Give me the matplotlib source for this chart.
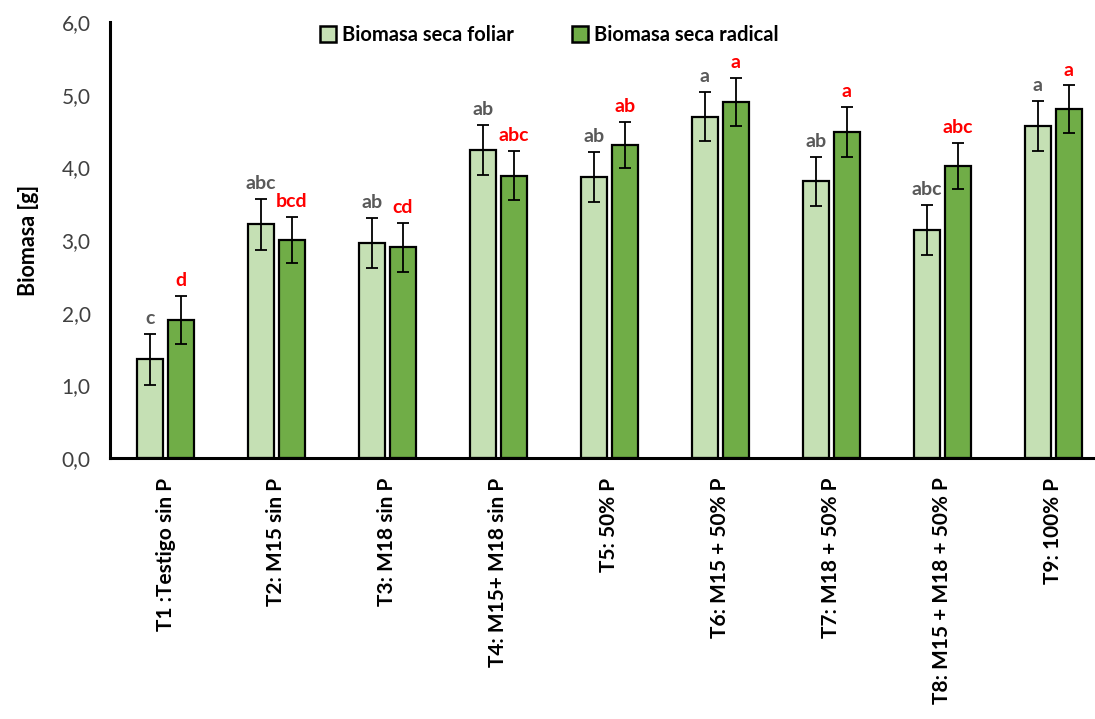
import numpy as np
import matplotlib
matplotlib.use("Agg")
import matplotlib.pyplot as plt
from matplotlib.ticker import FuncFormatter

plt.rcParams['font.family'] = ['Lato', 'DejaVu Sans']

# Data
tratamientos = ["T1 :Testigo sin P", "T2: M15 sin P", "T3: M18 sin P", "T4: M15+ M18 sin P",
                "T5: 50% P", "T6: M15 + 50% P", "T7: M18 + 50% P", "T8: M15 + M18 + 50% P",
                "T9: 100% P"]
foliar = [1.36, 3.22, 2.96, 4.24, 3.87, 4.70, 3.81, 3.14, 4.57]
foliar_err = [0.35, 0.35, 0.34, 0.34, 0.34, 0.34, 0.34, 0.34, 0.34]
radical = [1.90, 3.00, 2.90, 3.89, 4.31, 4.90, 4.49, 4.02, 4.80]
radical_err = [0.33, 0.32, 0.34, 0.34, 0.32, 0.33, 0.34, 0.32, 0.33]
letras_foliar = ["c", "abc", "ab", "ab", "ab", "a", "ab", "abc", "a"]
letras_radical = ["d", "bcd", "cd", "abc", "ab", "a", "a", "abc", "a"]

fig = plt.figure(figsize=(10.95, 7.19), dpi=100)
ax = fig.add_axes([0.1005, 0.363, 0.912, 0.606])

x = np.arange(len(tratamientos))
w = 0.235
off = 0.14
ax.bar(x - off, foliar, w, color="#C5E0B4", edgecolor="black", linewidth=1.6,
       label="Biomasa seca foliar", zorder=2)
ax.bar(x + off, radical, w, color="#70AD47", edgecolor="black", linewidth=1.6,
       label="Biomasa seca radical", zorder=2)
ax.errorbar(x - off, foliar, yerr=foliar_err, fmt="none", ecolor="black",
            elinewidth=1.3, capsize=4, capthick=1.3, zorder=3)
ax.errorbar(x + off, radical, yerr=radical_err, fmt="none", ecolor="black",
            elinewidth=1.3, capsize=4, capthick=1.3, zorder=3)

# significance letters
for i in range(len(x)):
    ax.annotate(letras_foliar[i], (x[i] - off, foliar[i] + foliar_err[i]),
                xytext=(0, 5), textcoords="offset points", ha="center", va="bottom",
                fontsize=14, color="#595959", fontweight="bold")
    ax.annotate(letras_radical[i], (x[i] + off, radical[i] + radical_err[i]),
                xytext=(0, 5), textcoords="offset points", ha="center", va="bottom",
                fontsize=14, color="red", fontweight="bold")

ax.set_xlim(-0.5, 8.5)
ax.set_ylim(0, 6)
ax.set_yticks(np.arange(0, 6.1, 1))
ax.yaxis.set_major_formatter(FuncFormatter(lambda v, p: f"{v:.1f}".replace(".", ",")))
ax.set_xticks(x)
ax.set_xticklabels(tratamientos, rotation=90, fontsize=15, fontweight="bold")
ax.tick_params(axis="both", length=0)
ax.tick_params(axis="y", labelsize=15, labelcolor="#404040", pad=14)
ax.tick_params(axis="x", pad=14)
ax.set_ylabel("Biomasa [g]", fontsize=15.5, fontweight="bold", labelpad=16)

for s in ["top", "right"]:
    ax.spines[s].set_visible(False)
ax.spines["left"].set_linewidth(2.2)
ax.spines["bottom"].set_linewidth(2.2)

leg = ax.legend(loc="upper center", bbox_to_anchor=(0.44, 1.035), ncol=2, frameon=False,
                prop={"size": 14.5, "weight": "bold"}, handlelength=0.8, handleheight=0.8,
                handletextpad=0.3, columnspacing=2.9)
for h in leg.legend_handles:
    h.set_linewidth(1.8)

fig.savefig("out.png", dpi=100)
